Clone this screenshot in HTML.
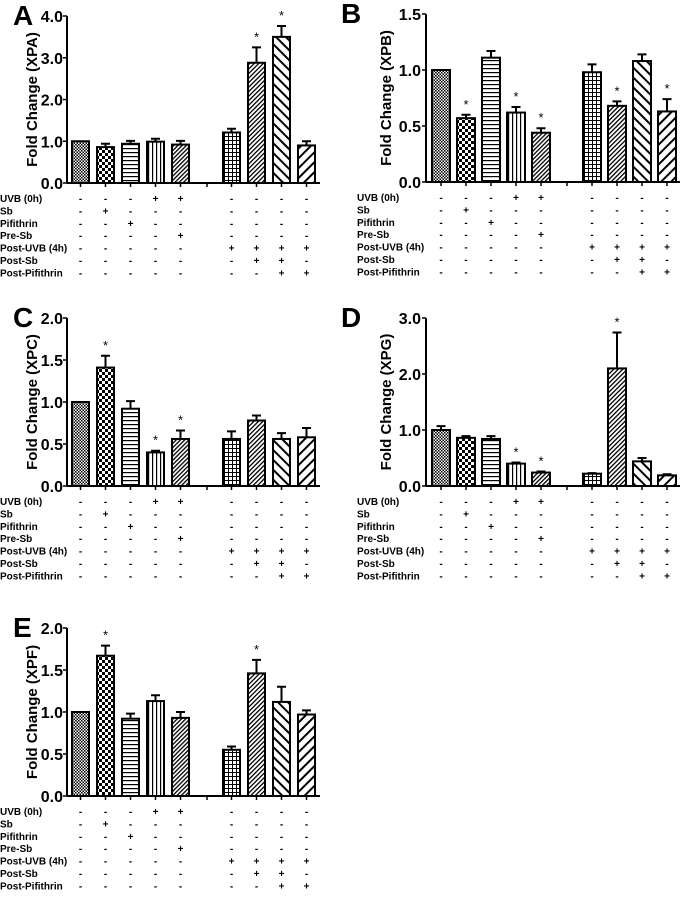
<!DOCTYPE html>
<html><head><meta charset="utf-8"><style>
body{margin:0;background:#fff;}
svg{display:block;font-family:"Liberation Sans",Arial,sans-serif;}
</style></head><body>
<svg id="fig" width="680" height="912" viewBox="0 0 680 912" xmlns="http://www.w3.org/2000/svg">
<defs>
<pattern id="p0" patternUnits="userSpaceOnUse" width="3" height="3"><rect width="3" height="3" fill="#fff"/><rect width="1.5" height="1.5" fill="#000"/><rect x="1.5" y="1.5" width="1.5" height="1.5" fill="#000"/></pattern>
<pattern id="p1" patternUnits="userSpaceOnUse" width="6" height="6"><rect width="6" height="6" fill="#fff"/><rect width="3" height="3" fill="#000"/><rect x="3" y="3" width="3" height="3" fill="#000"/></pattern>
<pattern id="p2" patternUnits="userSpaceOnUse" width="4" height="4"><rect width="4" height="4" fill="#fff"/><rect y="0" width="4" height="1.2" fill="#000"/></pattern>
<pattern id="p3" patternUnits="userSpaceOnUse" width="4" height="4"><rect width="4" height="4" fill="#fff"/><rect x="0" width="1.2" height="4" fill="#000"/></pattern>
<pattern id="p4" patternUnits="userSpaceOnUse" width="3" height="3" patternTransform="rotate(45)"><rect width="3" height="3" fill="#fff"/><rect width="1.3" height="3" fill="#000"/></pattern>
<pattern id="p5" patternUnits="userSpaceOnUse" width="4" height="4"><rect width="4" height="4" fill="#fff"/><rect width="4" height="1" fill="#000"/><rect width="1" height="4" fill="#000"/></pattern>
<pattern id="p6" patternUnits="userSpaceOnUse" width="3.2" height="3.2" patternTransform="rotate(45)"><rect width="3.2" height="3.2" fill="#fff"/><rect width="1.3" height="3.2" fill="#000"/></pattern>
<pattern id="p7" patternUnits="userSpaceOnUse" width="7" height="7" patternTransform="rotate(-45)"><rect width="7" height="7" fill="#fff"/><rect width="2" height="7" fill="#000"/></pattern>
<pattern id="p8" patternUnits="userSpaceOnUse" width="7" height="7" patternTransform="rotate(45)"><rect width="7" height="7" fill="#fff"/><rect width="2" height="7" fill="#000"/></pattern>
</defs>
</svg>
<script>
const valsA=[1.0,0.86,0.94,0.99,0.92,1.21,2.88,3.50,0.90];
const errA=[0,0.08,0.07,0.07,0.09,0.09,0.37,0.26,0.10];
const starA=[6,7];
const valsB=[1.0,0.57,1.11,0.62,0.44,0.98,0.68,1.08,0.63];
const errB=[0,0.03,0.06,0.05,0.04,0.07,0.04,0.06,0.11];
const starB=[1,3,4,6,8];
const valsC=[1.0,1.41,0.92,0.40,0.56,0.56,0.78,0.56,0.58];
const errC=[0,0.14,0.09,0.02,0.10,0.09,0.06,0.07,0.11];
const starC=[1,3,4];
const valsD=[1.0,0.86,0.84,0.40,0.24,0.22,2.10,0.44,0.19];
const errD=[0.07,0.03,0.05,0.02,0.02,0.01,0.64,0.06,0.02];
const starD=[3,4,6];
const valsE=[1.0,1.67,0.92,1.13,0.93,0.55,1.46,1.12,0.97];
const errE=[0,0.12,0.06,0.07,0.07,0.04,0.16,0.18,0.05];
const starE=[1,6];
const ticksA=["0.0","1.0","2.0","3.0","4.0"];
const ticksB=["0.0","0.5","1.0","1.5"];
const ticksC=["0.0","0.5","1.0","1.5","2.0"];
const ticksD=["0.0","1.0","2.0","3.0"];
const ticksE=["0.0","0.5","1.0","1.5","2.0"];
const rowLabels=["UVB (0h)","Sb","Pifithrin","Pre-Sb","Post-UVB (4h)","Post-Sb","Post-Pifithrin"];
const tableRows=[
["-","-","-","+","+","-","-","-","-"],
["-","+","-","-","-","-","-","-","-"],
["-","-","+","-","-","-","-","-","-"],
["-","-","-","-","+","-","-","-","-"],
["-","-","-","-","-","+","+","+","+"],
["-","-","-","-","-","-","+","+","-"],
["-","-","-","-","-","-","-","+","+"]];
const NS="http://www.w3.org/2000/svg";
const svg=document.getElementById('fig');
function mk(tag,attrs,parent,text){const e=document.createElementNS(NS,tag);for(const k in attrs)e.setAttribute(k,attrs[k]);if(text!==undefined)e.textContent=text;(parent||svg).appendChild(e);return e;}
function panel(letter,gene,vals,errs,stars,ticks,left,top,zero){
  const g=mk('g',{});
  
  
  const L=left?{ax:67,b0:72,bw:17,g2:223,gap:207,xe:320,lx:0,tr:63,tx:32,letx:13}:{ax:426,b0:432,bw:18,g2:583,gap:567,xe:680,lx:357,tr:421,tx:386,letx:341};
  const ymax=parseFloat(ticks[ticks.length-1]);
  const y=v=>zero-(v/ymax)*(zero-top);
  const bx=i=>i<5?L.b0+i*25:L.g2+(i-5)*25;
  const lt=mk('text',{x:L.letx,y:top+9,'font-size':28,'font-weight':'bold'},g,letter);
  
  
  const yt=mk('text',{x:L.tx,y:(top+zero)/2,'font-size':15,'font-weight':'bold','text-anchor':'middle',transform:`rotate(-90 ${L.tx} ${(top+zero)/2})`,dy:5},g,`Fold Change (${gene})`);
  
  
  ticks.forEach(t=>{const v=parseFloat(t);const yy=y(v);
    mk('line',{x1:L.ax-4,x2:L.ax,y1:yy,y2:yy,stroke:'#000','stroke-width':1.5},g);
    const tl=mk('text',{x:L.tr,y:yy+6,'font-size':16,'font-weight':'bold','text-anchor':'end'},g,t);
    
    });
  vals.forEach((v,i)=>{const x=bx(i);const yy=y(v);
    const r=mk('rect',{x:x,y:yy,width:L.bw,height:zero-yy,fill:`url(#p${i})`,stroke:'#000','stroke-width':2},g);
    
    
    const c=x+L.bw/2;
    if(errs[i]>0){const ye=y(v+errs[i]);
      const eb=mk('path',{d:`M${c} ${yy}V${ye}M${c-4.5} ${ye}H${c+4.5}`,stroke:'#000','stroke-width':2,fill:'none'},g);
      
      }
    if(stars.includes(i)){const st=mk('text',{x:c,y:y(v+errs[i])-6,'font-size':13,'text-anchor':'middle'},g,'*');
      
      }
    mk('line',{x1:c,x2:c,y1:zero,y2:zero+4,stroke:'#000','stroke-width':1.5},g);
  });
  mk('line',{x1:L.gap,x2:L.gap,y1:zero,y2:zero+4,stroke:'#000','stroke-width':1.5},g);
  const ya=mk('line',{x1:L.ax,x2:L.ax,y1:top,y2:zero,stroke:'#000','stroke-width':2},g);
  
  
  const xa=mk('line',{x1:L.ax,x2:L.xe,y1:zero,y2:zero,stroke:'#000','stroke-width':2},g);
  
  
  rowLabels.forEach((lab,r)=>{const yy=zero+19+r*12.4;
    const tl=mk('text',{x:L.lx,y:yy,'font-size':10,'font-weight':'bold'},g,lab);
    
    
    tableRows[r].forEach((s,i)=>{const c=bx(i)+L.bw/2;
      mk('text',{x:c,y:yy,'font-size':10,'font-weight':'bold','text-anchor':'middle'},g,s);});
  });
}
panel('A','XPA',valsA,errA,starA,ticksA,true,16,183);
panel('B','XPB',valsB,errB,starB,ticksB,false,14,182);
panel('C','XPC',valsC,errC,starC,ticksC,true,318,486);
panel('D','XPG',valsD,errD,starD,ticksD,false,318,486);
panel('E','XPF',valsE,errE,starE,ticksE,true,628,796);
</script>
</body></html>
